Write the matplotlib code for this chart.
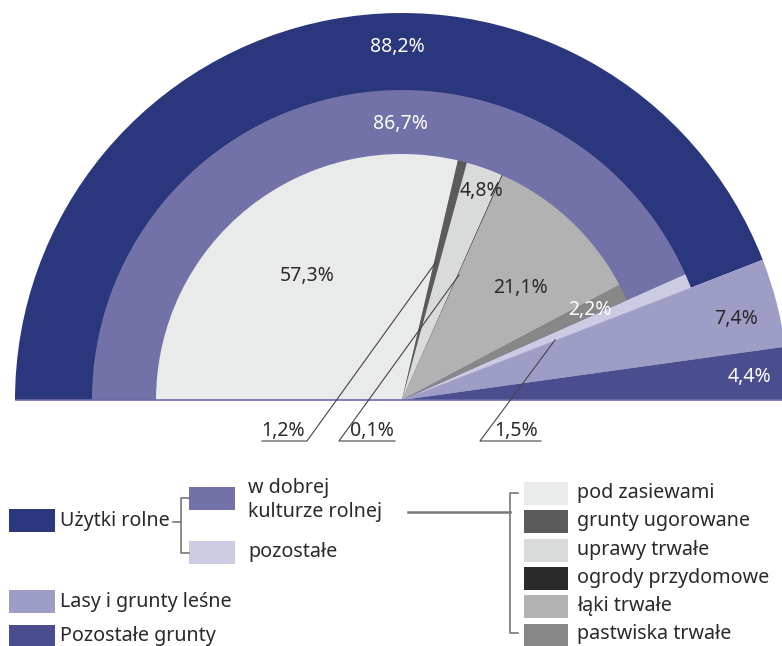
import matplotlib
matplotlib.use("Agg")
import matplotlib.pyplot as plt
from matplotlib.patches import Rectangle

plt.rcParams['font.family'] = ['Noto Sans', 'DejaVu Sans']

# --- data (percent of total area) ---
outer_labels = ['Użytki rolne', 'Lasy i grunty leśne', 'Pozostałe grunty']
outer_values = [88.2, 7.4, 4.4]
outer_colors = ['#2b377c', '#9e9dc6', '#4a4e8f']

middle_labels = ['w dobrej\nkulturze rolnej', 'pozostałe']
middle_values = [86.7, 1.5]
middle_colors = ['#7272a8', '#cbcbe3']

inner_labels = ['pod zasiewami', 'grunty ugorowane', 'uprawy trwałe',
                'ogrody przydomowe', 'łąki trwałe', 'pastwiska trwałe']
inner_values = [57.3, 1.2, 4.8, 0.1, 21.1, 2.2]
inner_colors = ['#e9ebea', '#5b5b5b', '#d9dbda', '#2a2a2a', '#b1b2b1', '#878787']

# figure in pixel coordinates (y down)
W, H = 782, 646
CX, CY = 402, 400
R_OUT, R_MID, R_IN = 387, 310, 246

fig = plt.figure(figsize=(W / 100, H / 100), dpi=100)
ax = fig.add_axes([0, 0, 1, 1])


def half_pie(values, colors, radius):
    # pad with an invisible part so the visible values fill the upper half
    vals = list(values) + [200 - sum(values)]
    cols = list(colors) + ['none']
    ax.pie(vals, colors=cols, radius=radius, center=(CX, CY), startangle=180,
           counterclock=True, frame=True,
           wedgeprops=dict(linewidth=0, antialiased=True))


half_pie(outer_values, outer_colors, R_OUT)
half_pie(middle_values, middle_colors, R_MID)
half_pie(inner_values, inner_colors, R_IN)

ax.set_xlim(0, W)
ax.set_ylim(H, 0)
ax.set_aspect('equal')
ax.axis('off')

# baseline
ax.plot([CX - R_OUT + 1, W], [CY, CY], color='#6b6ba8', lw=1.2)

# value labels inside the chart
pct = lambda v: f'{v:.1f}%'.replace('.', ',')
fs = 14
dark = '#2a2a2a'
ax.text(397, 47, pct(outer_values[0]), color='white', fontsize=fs, ha='center', va='center')
ax.text(400, 124, pct(middle_values[0]), color='white', fontsize=fs, ha='center', va='center')
ax.text(307, 276, pct(inner_values[0]), color=dark, fontsize=fs, ha='center', va='center')
ax.text(481, 191, pct(inner_values[2]), color=dark, fontsize=fs, ha='center', va='center')
ax.text(520, 288, pct(inner_values[4]), color=dark, fontsize=fs, ha='center', va='center')
ax.text(590, 310, pct(inner_values[5]), color='white', fontsize=fs, ha='center', va='center')
ax.text(736, 319, pct(outer_values[1]), color=dark, fontsize=fs, ha='center', va='center')
ax.text(750, 377, pct(outer_values[2]), color='white', fontsize=fs, ha='center', va='center')

# leader-line labels under the chart
lc = '#444444'
callouts = [
    (pct(inner_values[1]), 283, [262, 307, 436], [441, 441, 262]),
    (pct(inner_values[3]), 372, [395, 339, 459], [441, 441, 275]),
    (pct(middle_values[1]), 516, [541, 480, 555], [441, 441, 340]),
]
for txt, tx, xs, ys in callouts:
    ax.plot(xs, ys, color=lc, lw=0.8)
    ax.text(tx, 431, txt, color=dark, fontsize=fs, ha='center', va='center')

# --- legend ---
lfs = 14.2
gcol = '#777777'


def box(x, y, color, w=46, h=23):
    ax.add_patch(Rectangle((x, y), w, h, facecolor=color, edgecolor='none'))


box(9, 509, outer_colors[0])
ax.text(60, 521, outer_labels[0], fontsize=lfs, color=dark, va='center')
box(189, 487, middle_colors[0])
ax.text(248, 500, middle_labels[0], fontsize=lfs, color=dark, va='center', linespacing=1.3)
box(189, 541, middle_colors[1])
ax.text(248, 552, middle_labels[1], fontsize=lfs, color=dark, va='center')
box(9, 590, outer_colors[1])
ax.text(60, 602, outer_labels[1], fontsize=lfs, color=dark, va='center')
box(9, 625, outer_colors[2])
ax.text(60, 636, outer_labels[2], fontsize=lfs, color=dark, va='center')

# bracket from "Użytki rolne"
ax.plot([173, 181], [522, 522], color=gcol, lw=1.2)
ax.plot([189, 181, 181, 189], [498, 498, 553, 553], color=gcol, lw=1.2)

# connector to the detailed list
ax.plot([408, 510], [512, 512], color=gcol, lw=1.8)
ax.plot([518, 510, 510, 518], [493, 493, 633, 633], color=gcol, lw=1.2)

for i, (lab, col) in enumerate(zip(inner_labels, inner_colors)):
    y = 482 + i * 28.3
    box(524, y, col, w=44, h=23)
    ax.text(577, y + 11, lab, fontsize=lfs, color=dark, va='center')

fig.savefig('out.png', dpi=100)
